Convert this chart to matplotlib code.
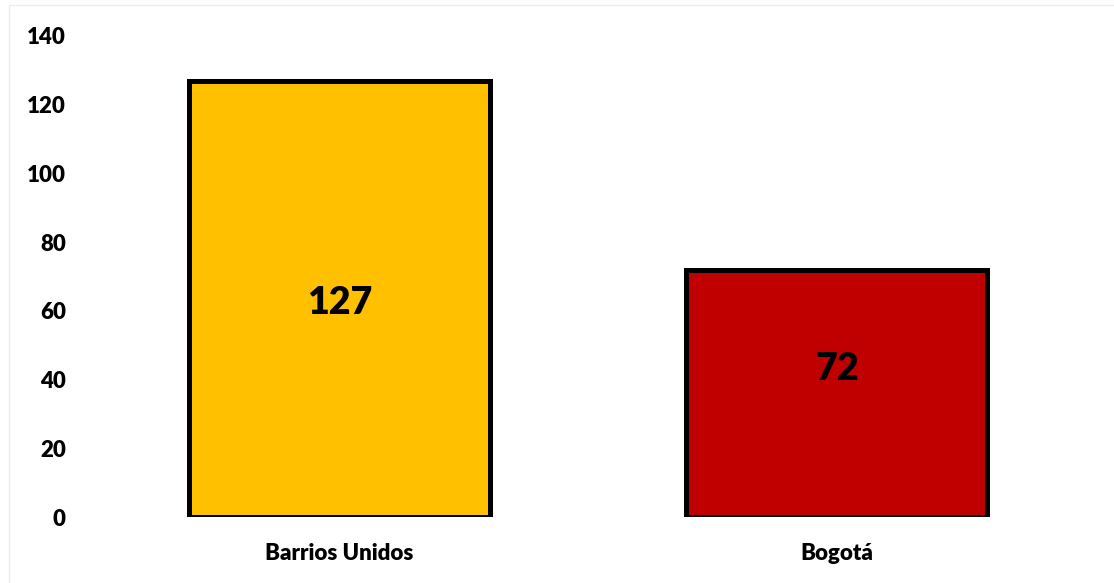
import matplotlib.pyplot as plt
from matplotlib.patches import Rectangle

# Data
categories = ["Barrios Unidos", "Bogotá"]
values = [127, 72]
bar_colors = ["#FFC000", "#C00000"]
y_ticks = [0, 20, 40, 60, 80, 100, 120, 140]

plt.rcParams["font.family"] = ["Lato", "DejaVu Sans"]

fig = plt.figure(figsize=(11.14, 5.83), dpi=100)
ax = fig.add_axes([0.0815, 0.1132, 0.893, 0.8251])

# Light frame around the chart area
fig.patches.append(Rectangle((9 / 1114, -0.1), 1.2, 1 - 5 / 583 + 0.1, transform=fig.transFigure,
                             fill=False, edgecolor="#ececec", linewidth=1))

x = list(range(len(categories)))
ax.bar(x, values, width=0.605, color=bar_colors, edgecolor="black", linewidth=3.6, zorder=3)

# Value labels inside the bars
label_pos = [0.49, 0.60]
for xi, v, p in zip(x, values, label_pos):
    ax.text(xi, v * p, str(v), ha="center", va="center", fontsize=27, fontweight="heavy", color="black")

ax.set_xlim(-0.5, 1.5)
ax.set_ylim(0, 140)
ax.set_yticks(y_ticks)
ax.set_yticklabels([str(t) for t in y_ticks], fontsize=16, fontweight="heavy")
ax.set_xticks(x)
ax.set_xticklabels(categories, fontsize=16, fontweight="heavy")
ax.tick_params(axis="y", length=0, pad=18)
ax.tick_params(axis="x", length=0, pad=19)
for s in ax.spines.values():
    s.set_visible(False)

plt.savefig("out.png", dpi=100)
